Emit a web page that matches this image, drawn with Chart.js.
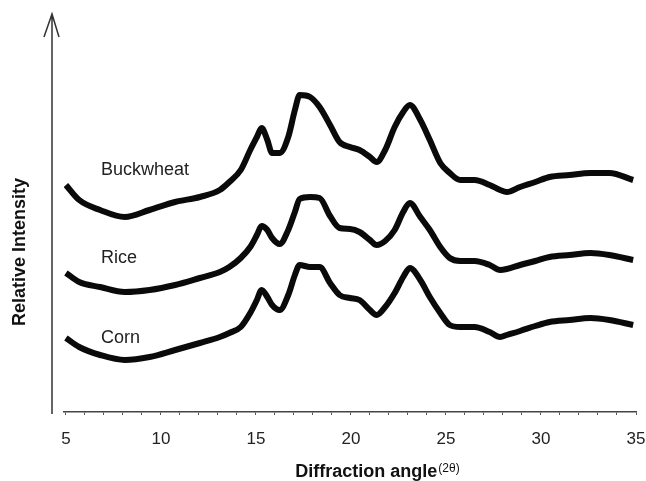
<!DOCTYPE html>
<html>
<head>
<meta charset="utf-8">
<script src="https://cdn.jsdelivr.net/npm/chart.js@4.4.1/dist/chart.umd.min.js"></script>
<style>
  html, body { margin: 0; padding: 0; background: #fff; }
  #container { width: 646px; height: 481px; }
</style>
</head>
<body>
<div id="container"><canvas id="graficaXRD" width="646" height="481"></canvas></div>
<script>
// diffraction angle (2 theta), shared by the three samples
const angles = [5.0, 5.7, 6.8, 8.1, 9.4, 10.75, 12.05, 13.1, 13.6, 14.2,
  14.7, 15.05, 15.3, 15.6, 15.85, 16.25, 16.7, 17.05, 17.3, 17.85,
  18.35, 18.9, 19.4, 19.95, 20.45, 21.0, 21.35, 21.8, 22.3, 22.75,
  23.1, 23.65, 24.15, 24.7, 25.2, 25.75, 26.5, 27.3, 27.85, 28.2,
  28.9, 29.7, 30.45, 31.5, 32.6, 33.6, 34.85];

// relative intensity (arbitrary units, curves stacked with offsets)
const buckwheat = [227, 212, 202, 195, 202, 210, 215, 222, 230, 242,
  262, 275, 284, 272, 259, 259, 275, 302, 317, 315,
  305, 287, 270, 265, 262, 255, 250, 262, 285, 300,
  307, 292, 272, 249, 239, 232, 232, 227, 222, 220,
  225, 230, 235, 237, 239, 239, 232];
const rice = [139, 130, 125, 120, 122, 127, 134, 140, 145, 154,
  165, 177, 186, 182, 174, 168, 182, 200, 213, 215,
  214, 196, 184, 183, 180, 172, 167, 171, 182, 200,
  209, 195, 182, 165, 154, 151, 151, 147, 142, 143,
  147, 151, 155, 157, 159, 157, 152];
const corn = [74, 65, 57, 52, 55, 62, 69, 75, 79, 85,
  99, 112, 122, 115, 107, 102, 117, 137, 147, 145,
  145, 129, 117, 114, 112, 102, 97, 105, 119, 135,
  144, 132, 115, 99, 87, 85, 85, 80, 75, 77,
  81, 86, 90, 92, 94, 92, 87];

const sampleNames = ["Buckwheat", "Rice", "Corn"];
const labelAngle = 6.85;              // where the sample names sit
const labelLevels = [237, 149, 69];   // baseline of each name, same units as intensity
const xTickLabels = [5, 10, 15, 20, 25, 30, 35];

const FONT = "'Liberation Sans', Arial, sans-serif";

// axis arrow, titles and sample names
const decoraciones = {
  id: "decoraciones",
  afterDraw(chart) {
    const ctx = chart.ctx;
    const xs = chart.scales.x;
    const ys = chart.scales.y;
    const area = chart.chartArea;
    ctx.save();

    // vertical axis with open arrow
    const ax = 52;
    ctx.strokeStyle = "#333";
    ctx.lineWidth = 1.5;
    ctx.beginPath();
    ctx.moveTo(ax, area.bottom + 2);
    ctx.lineTo(ax, area.top);
    ctx.moveTo(ax - 8, area.top + 23);
    ctx.lineTo(ax, area.top);
    ctx.lineTo(ax + 7, area.top + 23);
    ctx.stroke();

    // y title
    ctx.fillStyle = "#111";
    ctx.font = "bold 18px " + FONT;
    ctx.textAlign = "center";
    ctx.textBaseline = "middle";
    ctx.translate(20, 252);
    ctx.rotate(-Math.PI / 2);
    ctx.fillText("Relative Intensity", 0, 0);
    ctx.setTransform(1, 0, 0, 1, 0, 0);

    // x title, with the small (2θ)
    ctx.textBaseline = "alphabetic";
    ctx.textAlign = "left";
    const main = "Diffraction angle";
    const sub = "(2θ)";
    ctx.font = "bold 18px " + FONT;
    const w1 = ctx.measureText(main).width;
    ctx.font = "12px " + FONT;
    const w2 = ctx.measureText(sub).width;
    const x0 = 377 - (w1 + w2) / 2;
    ctx.font = "bold 18px " + FONT;
    ctx.fillText(main, x0, 477);
    ctx.font = "12px " + FONT;
    ctx.fillText(sub, x0 + w1 + 1, 472);

    // sample names
    ctx.font = "18px " + FONT;
    ctx.fillStyle = "#222";
    sampleNames.forEach((name, i) => {
      ctx.fillText(name, xs.getPixelForValue(labelAngle), ys.getPixelForValue(labelLevels[i]));
    });
    ctx.restore();
  },
};

const toPoints = (vals) => angles.map((a, i) => ({ x: a, y: vals[i] }));

const serie = (name, vals) => ({
  label: name,
  data: toPoints(vals),
  borderColor: "#0a0a0a",
  borderWidth: 6,
  pointRadius: 0,
  fill: false,
  cubicInterpolationMode: "monotone",
});

const canvas = document.getElementById("graficaXRD");
const ctx = canvas.getContext("2d");

window.myChart = new Chart(ctx, {
  type: "line",
  data: {
    datasets: [
      serie(sampleNames[0], buckwheat),
      serie(sampleNames[1], rice),
      serie(sampleNames[2], corn),
    ],
  },
  options: {
    responsive: false,
    animation: false,
    layout: { padding: { left: 64, right: 10, top: 14, bottom: 30 } },
    plugins: { legend: { display: false }, tooltip: { enabled: false } },
    scales: {
      x: {
        type: "linear",
        min: 4.9,
        max: 35,
        afterBuildTicks: (axis) => {
          const t = [];
          for (let v = 5; v <= 35; v++) t.push({ value: v });
          axis.ticks = t;
        },
        // fixed size so the plot area lands where the original one is
        afterFit: (scale) => {
          scale.paddingLeft = 0;
          scale.paddingRight = 0;
          scale.height = 39;
        },
        border: { display: true, color: "#444", width: 1.5 },
        grid: { display: true, drawOnChartArea: false, drawTicks: true, tickLength: 3, color: "#555" },
        ticks: {
          autoSkip: false,
          maxRotation: 0,
          padding: 14,
          color: "#222",
          font: { family: FONT, size: 17 },
          callback: (v) => (xTickLabels.includes(v) ? String(v) : ""),
        },
      },
      y: {
        display: false,
        min: 0,
        max: 398,
      },
    },
  },
  plugins: [decoraciones],
});
</script>
</body>
</html>
